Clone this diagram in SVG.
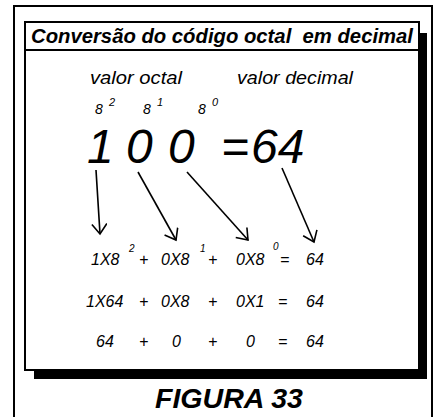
<svg xmlns="http://www.w3.org/2000/svg" width="437" height="417" viewBox="0 0 437 417">
<defs>
<style>
.t{font-family:"Liberation Sans",Arial,sans-serif;font-style:italic;fill:#000}
.b{font-weight:bold}
.row{font-size:16px}
.sup{font-size:10px}
.conn line{stroke:#000;stroke-width:1.6;fill:none}
</style>
<marker id="ah" markerUnits="userSpaceOnUse" markerWidth="14" markerHeight="18" refX="11" refY="8" orient="auto">
<path d="M1,0.5 L11,8 L1,15.5" fill="none" stroke="#000" stroke-width="1.6"/>
</marker>
</defs>
<rect width="437" height="417" fill="#fff"/>
<g id="outer-frame">
<path d="M14,420 V6 H432 V420" fill="none" stroke="#000" stroke-width="2"/>
</g>
<g id="panel">
<rect x="34" y="33" width="393" height="346" fill="#000"/>
<rect x="25" y="22" width="394" height="348" fill="#fff" stroke="#000" stroke-width="2"/>
<line x1="25" y1="50" x2="419" y2="50" stroke="#000" stroke-width="2"/>
</g>
<g id="title">
<text class="t b" x="31" y="43" font-size="21" textLength="382" lengthAdjust="spacingAndGlyphs" xml:space="preserve" style="white-space:pre">Conversão do código octal  em decimal</text>
</g>
<g id="labels">
<text class="t" x="90" y="84" font-size="19" textLength="92" lengthAdjust="spacingAndGlyphs">valor octal</text>
<text class="t" x="237" y="84" font-size="19" textLength="116" lengthAdjust="spacingAndGlyphs">valor decimal</text>
</g>
<g id="exponents">
<text class="t" x="95" y="114" font-size="14">8</text>
<text class="t" x="109" y="106" font-size="11">2</text>
<text class="t" x="143" y="114" font-size="14">8</text>
<text class="t" x="157" y="106" font-size="11">1</text>
<text class="t" x="198" y="114" font-size="14">8</text>
<text class="t" x="212" y="106" font-size="11">0</text>
</g>
<g id="number">
<text class="t" x="87" y="163" font-size="48">1</text>
<text class="t" x="126" y="163" font-size="48">0</text>
<text class="t" x="168" y="163" font-size="48">0</text>
<text class="t" x="221" y="163" font-size="48">=</text>
<text class="t" x="251" y="163" font-size="48">64</text>
</g>
<g id="connectors" class="conn">
<line x1="96" y1="170" x2="100" y2="234" marker-end="url(#ah)"/>
<line x1="138" y1="172" x2="176" y2="240" marker-end="url(#ah)"/>
<line x1="187" y1="172" x2="248" y2="240" marker-end="url(#ah)"/>
<line x1="282" y1="168" x2="314" y2="242" marker-end="url(#ah)"/>
</g>
<g id="row1" class="t row">
<text x="91" y="265">1X8</text>
<text class="sup" x="129" y="252">2</text>
<text x="139" y="265">+</text>
<text x="161" y="265">0X8</text>
<text class="sup" x="200" y="252">1</text>
<text x="208" y="265">+</text>
<text x="236" y="265">0X8</text>
<text class="sup" x="273" y="250">0</text>
<text x="280" y="265">=</text>
<text x="306" y="265">64</text>
</g>
<g id="row2" class="t row">
<text x="86" y="307">1X64</text>
<text x="139" y="307">+</text>
<text x="161" y="307">0X8</text>
<text x="208" y="307">+</text>
<text x="236" y="307">0X1</text>
<text x="278" y="307">=</text>
<text x="306" y="307">64</text>
</g>
<g id="row3" class="t row">
<text x="96" y="347">64</text>
<text x="139" y="347">+</text>
<text x="172" y="347">0</text>
<text x="208" y="347">+</text>
<text x="246" y="347">0</text>
<text x="278" y="347">=</text>
<text x="306" y="347">64</text>
</g>
<g id="caption">
<text class="t b" x="155" y="408" font-size="28" textLength="148" lengthAdjust="spacingAndGlyphs">FIGURA 33</text>
</g>
</svg>
